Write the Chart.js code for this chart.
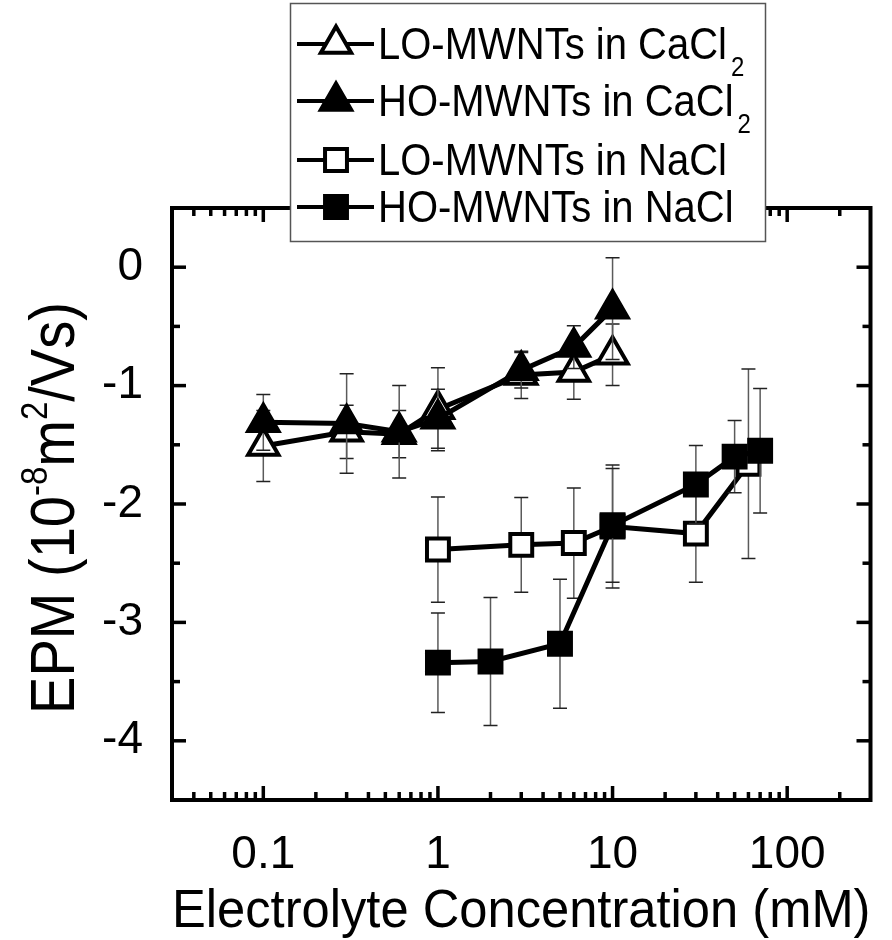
<!DOCTYPE html>
<html>
<head>
<meta charset="utf-8">
<script src="https://cdn.jsdelivr.net/npm/chart.js@4.4.0/dist/chart.umd.min.js"></script>
<style>
  html, body { margin: 0; padding: 0; background: #fff; }
</style>
</head>
<body>
<canvas id="epm" width="892" height="940"></canvas>
<script>
const FONT = "'Liberation Sans', Arial, Helvetica, sans-serif";

// axis ticks
const xTickValues = [0.1, 1, 10, 100];
const yTickValues = [-4, -3, -2, -1, 0];

// legend text (subscript kept apart)
const seriesNames = ['LO-MWNTs in CaCl', 'HO-MWNTs in CaCl', 'LO-MWNTs in NaCl', 'HO-MWNTs in NaCl'];
const seriesSubs = ['2', '2', '', ''];

// LO-MWNTs in CaCl2
const loCaX = [0.1, 0.3, 0.6, 1, 3, 6, 10];
const loCaY = [-1.51, -1.39, -1.41, -1.20, -0.91, -0.885, -0.74];
const loCaErr = [0.30, 0.225, 0.20, 0.35, 0.20, 0.23, 0.26];

// HO-MWNTs in CaCl2
const hoCaX = [0.1, 0.3, 0.6, 1, 3, 6, 10];
const hoCaY = [-1.31, -1.32, -1.39, -1.28, -0.87, -0.675, -0.35];
const hoCaErr = [0.235, 0.42, 0.39, 0.25, 0.15, 0.18, 0.43];

// LO-MWNTs in NaCl
const loNaX = [1, 3, 6, 10, 30, 60];
const loNaY = [-2.385, -2.345, -2.33, -2.19, -2.25, -1.66];
const loNaErr = [0.445, 0.40, 0.465, 0.52, 0.41, 0.80];

// HO-MWNTs in NaCl
const hoNaX = [1, 2, 5, 10, 30, 50, 70];
const hoNaY = [-3.34, -3.33, -3.18, -2.18, -1.835, -1.60, -1.55];
const hoNaErr = [0.42, 0.54, 0.545, 0.48, 0.33, 0.305, 0.525];

function pairs(xs, ys) {
    return xs.map((x, i) => ({ x: x, y: ys[i] }));
}

function makeSet(label, xs, ys, errs, style, filled, order) {
    return {
        label: label,
        data: pairs(xs, ys),
        errors: errs,
        order: order,
        borderColor: '#000',
        borderWidth: 5,
        tension: 0,
        pointStyle: style,
        pointRadius: style === 'triangle' ? 17.5 : 15.5,
        pointBorderWidth: 4,
        pointBorderColor: '#000',
        pointBackgroundColor: filled ? '#000' : '#fff'
    };
}

// error bars go under each series' own markers
const errorBars = {
    id: 'errorBars',
    beforeDatasetDraw(chart, args) {
        const ds = chart.data.datasets[args.index];
        const yScale = chart.scales.y;
        const ctx = chart.ctx;
        ctx.save();
        ctx.lineWidth = 1.5;
        args.meta.data.forEach((pt, i) => {
            const v = ds.data[i].y;
            const e = ds.errors[i];
            const top = yScale.getPixelForValue(v + e);
            const bot = yScale.getPixelForValue(v - e);
            ctx.strokeStyle = '#5a5a5a';
            ctx.beginPath();
            ctx.moveTo(pt.x, top);
            ctx.lineTo(pt.x, bot);
            ctx.stroke();
            ctx.strokeStyle = '#222';
            ctx.beginPath();
            ctx.moveTo(pt.x - 7, top);
            ctx.lineTo(pt.x + 7, top);
            ctx.moveTo(pt.x - 7, bot);
            ctx.lineTo(pt.x + 7, bot);
            ctx.stroke();
        });
        ctx.restore();
    }
};

// box frame with inward ticks on all four sides
const frameTicks = {
    id: 'frameTicks',
    afterDraw(chart) {
        const ctx = chart.ctx;
        const a = chart.chartArea;
        const xs = chart.scales.x;
        const ys = chart.scales.y;
        ctx.save();
        ctx.strokeStyle = '#000';
        ctx.lineWidth = 4;
        ctx.lineJoin = 'miter';
        ctx.strokeRect(a.left, a.top, a.right - a.left, a.bottom - a.top);

        ctx.lineWidth = 3.5;
        function seg(x1, y1, x2, y2) {
            ctx.beginPath();
            ctx.moveTo(x1, y1);
            ctx.lineTo(x2, y2);
            ctx.stroke();
        }
        function xTick(v, len) {
            const p = xs.getPixelForValue(v);
            seg(p, a.bottom, p, a.bottom - len);
            seg(p, a.top, p, a.top + len);
        }
        function yTick(v, len) {
            const p = ys.getPixelForValue(v);
            seg(a.left, p, a.left + len, p);
            seg(a.right, p, a.right - len, p);
        }
        xTickValues.forEach(v => xTick(v, 14));
        for (let d = 0.01; d <= 100; d *= 10) {
            for (let k = 2; k <= 9; k++) {
                const v = k * d;
                if (v > xs.min && v < xs.max) xTick(v, 8);
            }
        }
        yTickValues.forEach(v => yTick(v, 14));
        yTickValues.forEach(v => { if (v - 0.5 > ys.min) yTick(v - 0.5, 8); });
        ctx.restore();
    }
};

// text a bit taller than wide, like the source figure
const STRETCH = 1.12;

const legendBox = {
    id: 'legendBox',
    afterDraw(chart) {
        const ctx = chart.ctx;
        const rows = [44, 101, 160, 207];
        ctx.save();
        ctx.fillStyle = '#fff';
        ctx.fillRect(290, 3, 476, 239);
        ctx.strokeStyle = '#555';
        ctx.lineWidth = 1.5;
        ctx.strokeRect(290.5, 3.5, 475, 238);
        chart.data.datasets.forEach((ds, i) => {
            const y = rows[i];
            ctx.strokeStyle = '#000';
            ctx.lineWidth = 4;
            ctx.beginPath();
            ctx.moveTo(297, y);
            ctx.lineTo(374, y);
            ctx.stroke();
            ctx.fillStyle = ds.pointBackgroundColor;
            ctx.strokeStyle = '#000';
            ctx.lineWidth = ds.pointBorderWidth;
            Chart.helpers.drawPoint(ctx, {
                pointStyle: ds.pointStyle,
                radius: ds.pointRadius,
                borderWidth: ds.pointBorderWidth,
                rotation: 0
            }, 336, y);

            ctx.save();
            ctx.translate(378, y + 15);
            ctx.scale(1, STRETCH);
            ctx.fillStyle = '#000';
            ctx.textBaseline = 'alphabetic';
            ctx.textAlign = 'left';
            ctx.font = '40px ' + FONT;
            ctx.fillText(seriesNames[i], 0, 0);
            if (seriesSubs[i]) {
                const w = ctx.measureText(seriesNames[i]).width;
                ctx.font = '24px ' + FONT;
                ctx.fillText(seriesSubs[i], w + 4, 15);
            }
            ctx.restore();
        });
        ctx.restore();
    }
};

// y axis title with superscripts
const yTitle = {
    id: 'yTitle',
    afterDraw(chart) {
        const ctx = chart.ctx;
        const parts = [
            { t: 'EPM (10', s: 56, up: 0 },
            { t: '-8', s: 33, up: 24 },
            { t: 'm', s: 56, up: 0 },
            { t: '2', s: 33, up: 24 },
            { t: '/Vs)', s: 56, up: 0 }
        ];
        ctx.save();
        ctx.fillStyle = '#000';
        ctx.textBaseline = 'alphabetic';
        ctx.textAlign = 'left';
        let total = 0;
        parts.forEach(p => {
            ctx.font = p.s + 'px ' + FONT;
            p.w = ctx.measureText(p.t).width;
            total += p.w;
        });
        ctx.translate(74, 508);
        ctx.rotate(-Math.PI / 2);
        ctx.scale(1, STRETCH);
        let x = -total / 2;
        parts.forEach(p => {
            ctx.font = p.s + 'px ' + FONT;
            ctx.fillText(p.t, x, -p.up);
            x += p.w;
        });
        ctx.restore();
    }
};

new Chart(document.getElementById('epm'), {
    type: 'line',
    data: {
        datasets: [
            makeSet(seriesNames[0] + '2', loCaX, loCaY, loCaErr, 'triangle', false, 4),
            makeSet(seriesNames[1] + '2', hoCaX, hoCaY, hoCaErr, 'triangle', true, 3),
            makeSet(seriesNames[2], loNaX, loNaY, loNaErr, 'rect', false, 2),
            makeSet(seriesNames[3], hoNaX, hoNaY, hoNaErr, 'rect', true, 1)
        ]
    },
    options: {
        responsive: false,
        animation: false,
        devicePixelRatio: 1,
        events: [],
        layout: { padding: { top: 208, right: 13, left: 0, bottom: 0 } },
        plugins: {
            legend: { display: false },
            tooltip: { enabled: false }
        },
        scales: {
            x: {
                type: 'logarithmic',
                min: 0.03,
                max: 300,
                afterBuildTicks: s => { s.ticks = xTickValues.map(v => ({ value: v })); },
                afterFit: s => { s.height = 140; },
                grid: { display: false, drawTicks: false },
                border: { display: false },
                ticks: {
                    padding: 28,
                    color: '#000',
                    autoSkip: false,
                    maxRotation: 0,
                    font: { family: FONT, size: 46 },
                    callback: v => String(v)
                },
                title: {
                    display: true,
                    text: 'Electrolyte Concentration (mM)',
                    color: '#000',
                    font: { family: FONT, size: 54, lineHeight: 1 },
                    padding: { top: 0, bottom: 1 }
                }
            },
            y: {
                min: -4.5,
                max: 0.5,
                afterBuildTicks: s => { s.ticks = yTickValues.map(v => ({ value: v })); },
                afterFit: s => { s.width = 172; },
                grid: { display: false, drawTicks: false },
                border: { display: false },
                ticks: {
                    padding: 29,
                    color: '#000',
                    font: { family: FONT, size: 46 },
                    callback: v => String(v)
                }
            }
        }
    },
    plugins: [errorBars, frameTicks, legendBox, yTitle]
});
</script>
</body>
</html>
